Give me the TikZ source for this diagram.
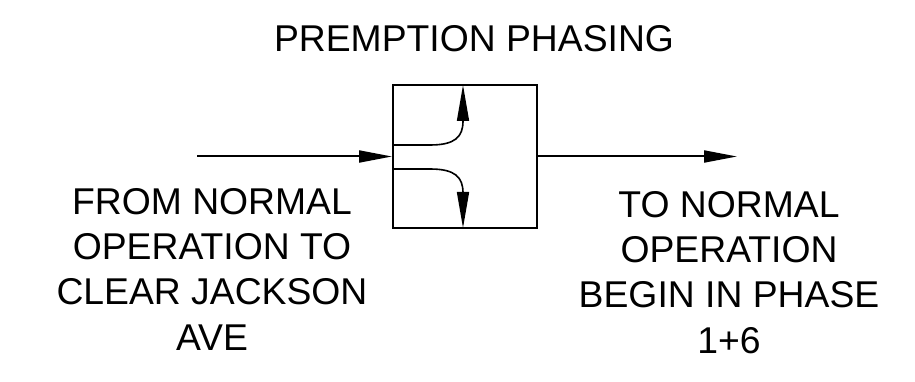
\documentclass[tikz,border=0pt]{standalone}
\usepackage{fontspec}
\setmainfont{Liberation Sans}
\usetikzlibrary{arrows.meta}
\begin{document}
\begin{tikzpicture}[x=1pt,y=-1pt,
  lbl/.style={inner sep=0pt, align=center, anchor=base, font=\fontsize{37.3}{45.3}\selectfont},
  boxline/.style={line width=2pt, draw=black},
  flow/.style={line width=2pt, -{Triangle[length=33pt,width=12pt]}},
  branch/.style={line width=1.6pt, -{Triangle[length=36pt,width=12pt]}}]
\useasboundingbox (0,0) rectangle (915,382);
\node[boxline, minimum width=144pt, minimum height=143pt, inner sep=0pt] (box) at (465,156.5) {};
\node[lbl] (title) at (474,52) {PREMPTION PHASING};
\node[lbl] (left) at (212,350) {FROM NORMAL\\OPERATION TO\\CLEAR JACKSON\\AVE};
\node[lbl] (right) at (729,353) {TO NORMAL\\OPERATION\\BEGIN IN PHASE\\1+6};
\coordinate (in) at (197,156.5);
\coordinate (out) at (737,156.5);
\draw[flow] (in) -- (box.west);
\draw[flow] (box.east) -- (out);
\coordinate (u0) at ([yshift=11.5pt]box.west);
\coordinate (l0) at ([yshift=-12.5pt]box.west);
\coordinate (ut) at (463,85);
\coordinate (lt) at (463,228);
\draw[branch] (u0) -- (430,145) .. controls (455,145) and (463,137) .. (463,121) -- (ut);
\draw[branch] (l0) -- (430,169) .. controls (455,169) and (463,177) .. (463,193) -- (lt);
\end{tikzpicture}
\end{document}
